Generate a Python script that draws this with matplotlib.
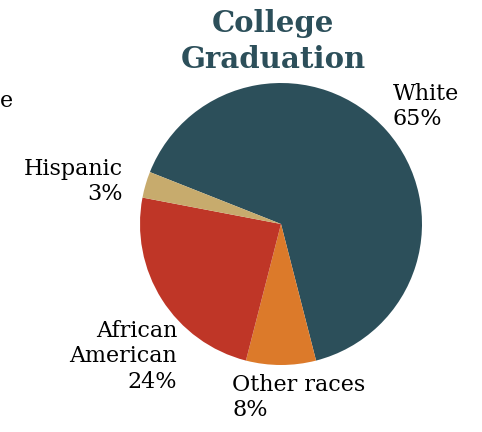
import matplotlib.pyplot as plt

groups = ['White', 'Other races', 'African\nAmerican', 'Hispanic']
shares = [65, 8, 24, 3]
colors = ['#2c4f5a', '#dc7a2a', '#bf3627', '#c7ab6d']

fig = plt.figure(figsize=(4.82, 4.32), dpi=100)
ax = fig.add_axes([0, 0, 1, 1])

wedges, _ = ax.pie(shares, colors=colors, startangle=158.4, counterclock=False,
                   center=(281, 208), radius=141, frame=True,
                   wedgeprops=dict(linewidth=0))
ax.set_xlim(0, 482)
ax.set_ylim(0, 432)
ax.set_aspect('equal')
ax.axis('off')

font = 'DejaVu Serif'
lab = dict(fontsize=16, family=font, color='black', va='top', linespacing=1.2)
ax.text(393, 349, f'{groups[0]}\n{shares[0]}%', ha='left', **lab)
ax.text(232, 58, f'{groups[1]}\n{shares[1]}%', ha='left', **lab)
ax.text(177, 112, f'{groups[2]}\n{shares[2]}%', ha='right', multialignment='right', **lab)
ax.text(123, 274, f'{groups[3]}\n{shares[3]}%', ha='right', multialignment='right', **lab)

# leftover letter from the neighbouring chart
ax.text(0, 342, 'e', ha='left', **lab)

ax.text(273, 423, 'College\nGraduation', ha='center', va='top', fontsize=21,
        fontweight='bold', family=font, color='#2c4f5a', linespacing=1.3)

fig.savefig('out.png', dpi=100)
